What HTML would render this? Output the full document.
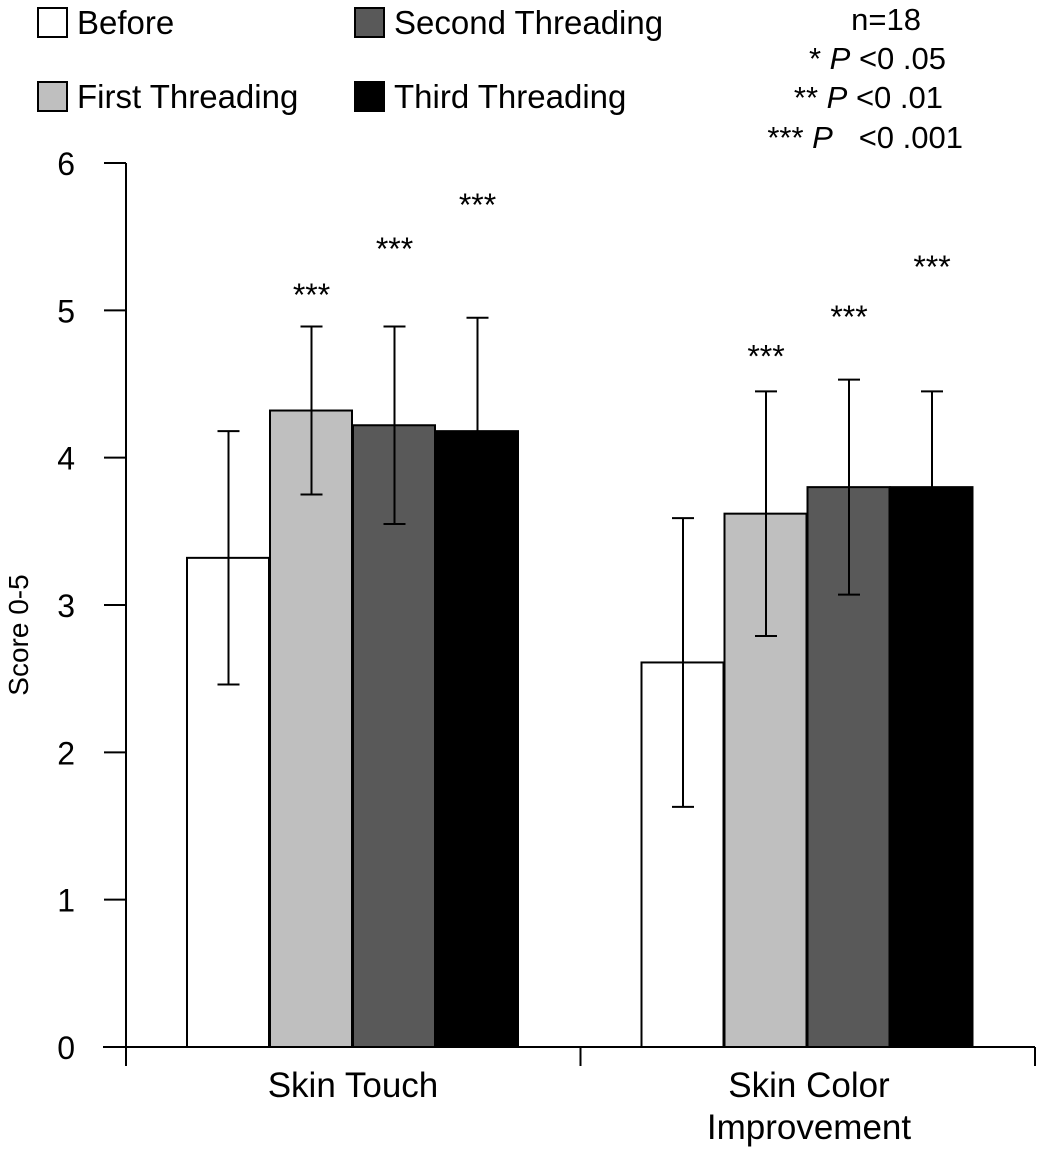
<!DOCTYPE html>
<html><head><meta charset="utf-8"><style>
html,body{margin:0;padding:0;background:#fff;}
svg{display:block;font-family:"Liberation Sans",Arial,sans-serif;}
</style></head><body>
<svg id="chart" width="1038" height="1152" viewBox="0 0 1038 1152">
<g id="legend"></g>
<g font-size="31" text-anchor="end" fill="#000">
<text x="921" y="30">n=18</text>
<text x="946" y="69">* <tspan font-style="italic">P</tspan> &lt;0 .05</text>
<text x="943" y="108">** <tspan font-style="italic">P</tspan> &lt;0 .01</text>
<text x="963" y="148" xml:space="preserve">*** <tspan font-style="italic">P</tspan>   &lt;0 .001</text>
</g>
<g id="axes"></g>
<g id="bars"></g>
<text x="0" y="0" transform="translate(28,635) rotate(-90)" text-anchor="middle" font-size="28">Score 0-5</text>
</svg>
<script>
const categories = ["Skin Touch", "Skin Color|Improvement"];
const seriesNames = ["Before", "First Threading", "Second Threading", "Third Threading"];
const seriesColors = ["#ffffff", "#bfbfbf", "#595959", "#000000"];
const beforeVals = [3.32, 2.61];
const firstVals = [4.32, 3.62];
const secondVals = [4.22, 3.80];
const thirdVals = [4.18, 3.80];
const beforeErr = [0.86, 0.98];
const firstErr = [0.57, 0.83];
const secondErr = [0.67, 0.73];
const thirdErr = [0.77, 0.65];
const stars = [["", "***", "***", "***"], ["", "***", "***", "***"]];
const starLevels = [[0, 5.16, 5.47, 5.77], [0, 4.74, 5.01, 5.35]];
const yTicks = [0, 1, 2, 3, 4, 5, 6];

const NS = "http://www.w3.org/2000/svg";
const y0 = 1047, yTop = 163, yMax = 6;
const yScale = v => y0 - v * (y0 - yTop) / yMax;
const axisX = 126, xEnd = 1035;
const groupW = (xEnd - axisX) / categories.length;
const barW = 83;
const xBar = (c, s) => axisX + groupW * c + 61 + s * barW;
function mk(tag, attrs, parent) {
  const e = document.createElementNS(NS, tag);
  for (const k in attrs) e.setAttribute(k, attrs[k]);
  parent.appendChild(e);
  return e;
}
const axes = document.getElementById("axes");
const bars = document.getElementById("bars");
const legend = document.getElementById("legend");

let l = mk("line", {x1: axisX, y1: yTop, x2: axisX, y2: y0, stroke: "#000", "stroke-width": 2}, axes);


l = mk("line", {x1: 103, y1: y0, x2: xEnd, y2: y0, stroke: "#000", "stroke-width": 2}, axes);


yTicks.forEach(t => {
  const y = yScale(t);
  const tk = mk("line", {x1: 104, y1: y, x2: axisX, y2: y, stroke: "#000", "stroke-width": 2}, axes);
  
  
  const tx = mk("text", {x: 75, y: y + 12, "text-anchor": "end", "font-size": 32}, axes);
  tx.textContent = t;
  
  
});
for (let c = 0; c <= categories.length; c++) {
  const x = axisX + groupW * c;
  const tk = mk("line", {x1: x, y1: y0, x2: x, y2: y0 + 19, stroke: "#000", "stroke-width": 2}, axes);
  
  
}
categories.forEach((cat, c) => {
  cat.split("|").forEach((line, i) => {
    const tx = mk("text", {x: c === 0 ? 353 : 809, y: 1097 + i * 42, "text-anchor": "middle", "font-size": 35}, axes);
    tx.textContent = line;
    
    
  });
});

const vals = [beforeVals, firstVals, secondVals, thirdVals];
const errs = [beforeErr, firstErr, secondErr, thirdErr];
categories.forEach((cat, c) => {
  vals.forEach((arr, s) => {
    const x = xBar(c, s), y = yScale(arr[c]);
    const r = mk("rect", {x: x, y: y, width: barW - 1, height: y0 - y, fill: seriesColors[s], stroke: "#000", "stroke-width": 2}, bars);
    
    
    const cx = x + barW / 2;
    const yt = yScale(arr[c] + errs[s][c]), yb = yScale(arr[c] - errs[s][c]);
    const e = mk("path", {d: `M${cx},${yt}V${yb}M${cx - 11},${yt}H${cx + 11}M${cx - 11},${yb}H${cx + 11}`, stroke: "#000", "stroke-width": 2, fill: "none"}, bars);
    
    
    if (stars[c][s]) {
      const st = mk("text", {x: cx, y: yScale(starLevels[c][s]) + 19, "text-anchor": "middle", "font-size": 32}, bars);
      st.textContent = stars[c][s];
      
      
    }
  });
});

const legPos = [[38, 8], [38, 82], [355, 8], [355, 82]];
seriesNames.forEach((n, s) => {
  const [x, y] = legPos[s];
  const sw = mk("rect", {x: x, y: y, width: 29, height: 29, fill: seriesColors[s], stroke: "#000", "stroke-width": 2}, legend);
  
  
  const tx = mk("text", {x: x + 39, y: y + 26, "font-size": 33}, legend);
  tx.textContent = n;
  
  
});
</script>
</body></html>
